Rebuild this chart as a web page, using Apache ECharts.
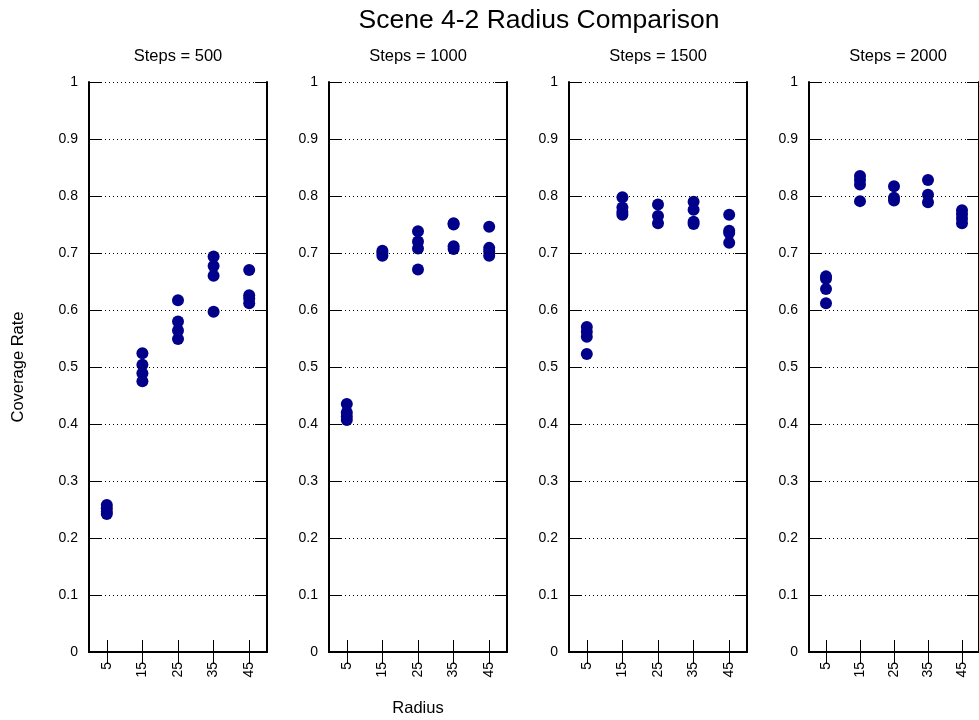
<!DOCTYPE html>
<html><head><meta charset="utf-8">
<script src="https://cdn.jsdelivr.net/npm/echarts@6/dist/echarts.min.js"></script>
<style>html,body{margin:0;padding:0;background:#fff}#c{width:979px;height:720px}</style>
</head><body><div id="c"></div>
<script>
const radii = ['5','15','25','35','45'];
const panelTitles = ['Steps = 500','Steps = 1000','Steps = 1500','Steps = 2000'];
const yTicks = [0,0.1,0.2,0.3,0.4,0.5,0.6,0.7,0.8,0.9,1];
// values per radius (5,15,25,35,45)
const steps500 = [
  [0.258,0.252,0.246,0.242],
  [0.524,0.504,0.489,0.475],
  [0.617,0.580,0.564,0.549],
  [0.694,0.677,0.660,0.597],
  [0.670,0.626,0.620,0.612]
];
const steps1000 = [
  [0.435,0.420,0.413,0.407],
  [0.704,0.700,0.695],
  [0.738,0.720,0.708,0.671],
  [0.752,0.750,0.712,0.707],
  [0.746,0.709,0.703,0.695]
];
const steps1500 = [
  [0.570,0.562,0.553,0.523],
  [0.798,0.780,0.772,0.767],
  [0.785,0.765,0.752],
  [0.790,0.776,0.755,0.751],
  [0.767,0.739,0.735,0.718]
];
const steps2000 = [
  [0.659,0.655,0.637,0.612],
  [0.835,0.828,0.820,0.791],
  [0.817,0.797,0.792],
  [0.828,0.802,0.789],
  [0.775,0.768,0.760,0.752]
];
const panels = [steps500, steps1000, steps1500, steps2000];

const FONT = '"Liberation Sans", Arial, sans-serif';
const lefts = [89, 329, 569, 809];
const W = 178, TOP = 82, H = 570;
const grid = [], xAxis = [], yAxis = [], series = [], graphic = [];
lefts.forEach((l, i) => {
  grid.push({left: l, top: TOP, width: W, height: H, containLabel: false});
  xAxis.push({type:'category', gridIndex:i, data:radii, position:'bottom', boundaryGap:true,
    axisLine:{show:true, lineStyle:{color:'#000', width:2}},
    axisTick:{show:true, inside:true, length:12, alignWithLabel:true, lineStyle:{color:'#000', width:1}},
    axisLabel:{show:true, rotate:90, margin:10, color:'#000', fontSize:14, fontFamily:FONT},
    splitLine:{show:false}, z:5});
  xAxis.push({type:'category', gridIndex:i, data:radii, position:'top', boundaryGap:true,
    axisLine:{show:true, lineStyle:{color:'#000', width:2}},
    axisTick:{show:true, inside:true, length:12, alignWithLabel:true, lineStyle:{color:'#000', width:1}},
    axisLabel:{show:false}, splitLine:{show:false}, z:5});
  yAxis.push({type:'value', gridIndex:i, min:0, max:1, interval:0.1, position:'left',
    axisLine:{show:true, lineStyle:{color:'#000', width:2}},
    axisTick:{show:true, inside:true, length:12, lineStyle:{color:'#000', width:1}},
    axisLabel:{show:true, margin:11, color:'#000', fontSize:14, fontFamily:FONT,
      formatter: v => String(Math.round(v*10)/10)},
    splitLine:{show:true, lineStyle:{color:'#000', width:1, type:[1,3]}}, z:5});
  yAxis.push({type:'value', gridIndex:i, min:0, max:1, interval:0.1, position:'right',
    axisLine:{show:true, lineStyle:{color:'#000', width:2}},
    axisTick:{show:true, inside:true, length:12, lineStyle:{color:'#000', width:1}},
    axisLabel:{show:false}, splitLine:{show:false}, z:5});
  const data = [];
  panels[i].forEach((vals, k) => vals.forEach(v => data.push([radii[k], v])));
  series.push({type:'scatter', xAxisIndex:2*i, yAxisIndex:2*i, data, symbol:'circle', symbolSize:12,
    itemStyle:{color:'#00008b', opacity:1}, z:3, silent:true});
  graphic.push({type:'text', x:l + W/2, y:56, style:{text:panelTitles[i], font:'16.5px '+FONT, fill:'#000', textAlign:'center', textVerticalAlign:'middle'}});
});
graphic.push({type:'text', x:539, y:21, style:{text:'Scene 4-2 Radius Comparison', font:'26.5px '+FONT, fill:'#000', textAlign:'center', textVerticalAlign:'middle'}});
graphic.push({type:'text', x:418, y:708, style:{text:'Radius', font:'16.5px '+FONT, fill:'#000', textAlign:'center', textVerticalAlign:'middle'}});
graphic.push({type:'text', x:18, y:367, rotation:Math.PI/2, style:{text:'Coverage Rate', font:'16.5px '+FONT, fill:'#000', textAlign:'center', textVerticalAlign:'middle'}});

const chart = echarts.init(document.getElementById('c'), null, {renderer:'canvas'});
chart.setOption({animation:false, backgroundColor:'#fff', grid, xAxis, yAxis, series, graphic});
</script></body></html>
